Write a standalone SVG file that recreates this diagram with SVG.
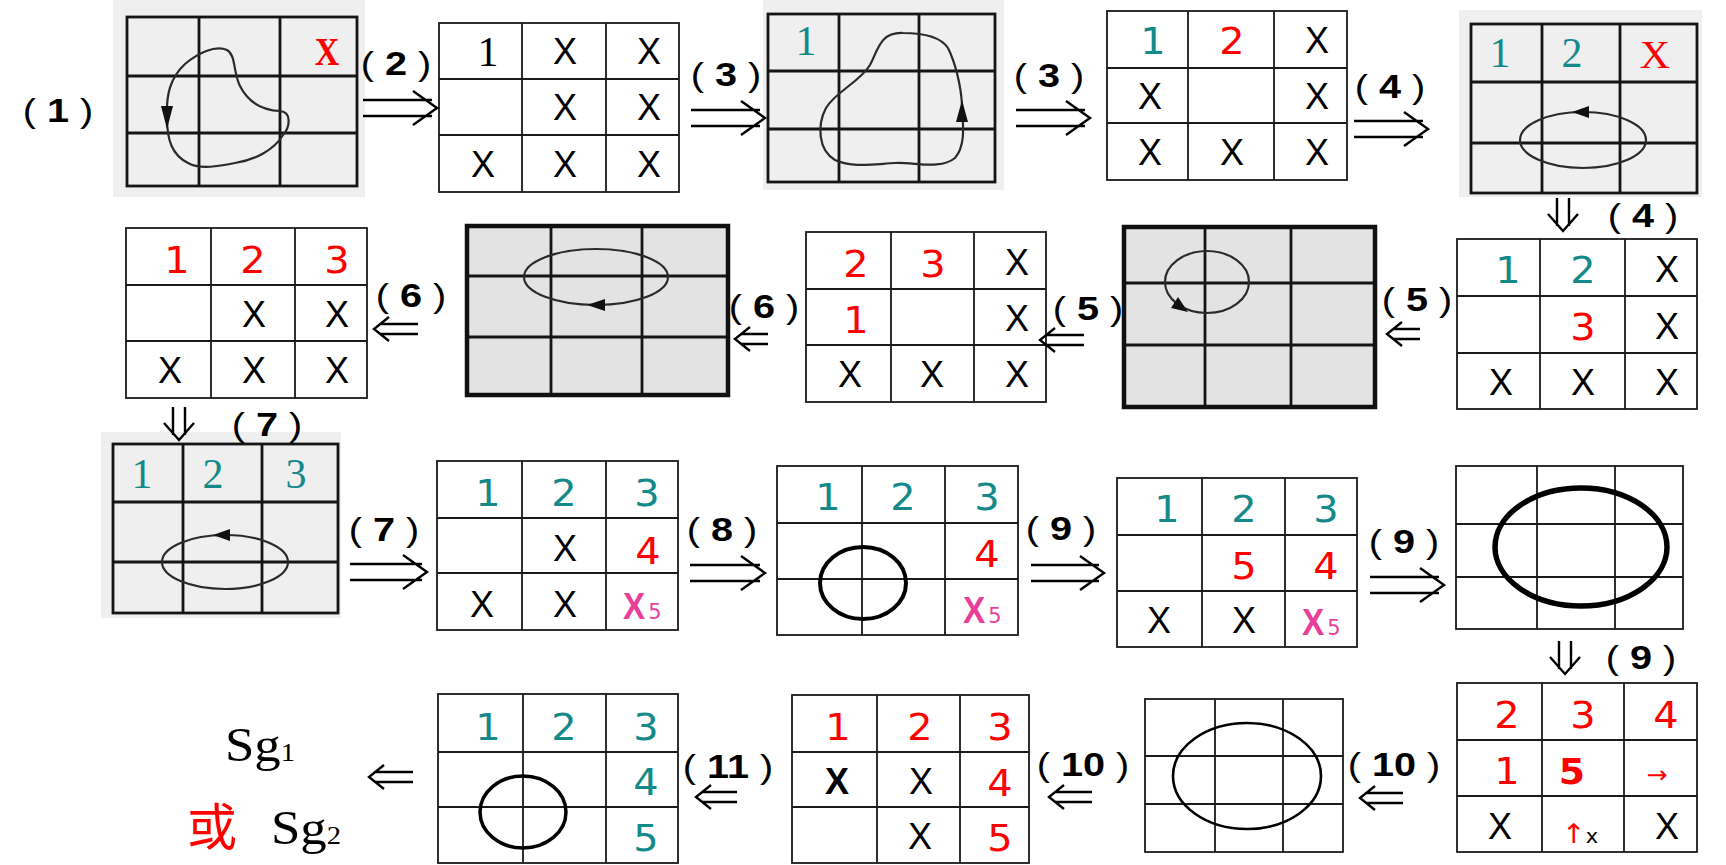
<svg xmlns="http://www.w3.org/2000/svg" width="1726" height="865" viewBox="0 0 1726 865">
<defs><style>
.bgp{fill:#efefef}
.bgd{fill:#e3e3e3}
.gw{fill:none;stroke:#1a1a1a;stroke-width:1.8}
.gp{fill:none;stroke:#151515;stroke-width:2.8}
.gt{fill:none;stroke:#111;stroke-width:4.5}
.cv{fill:none;stroke:#2a2a2a;stroke-width:2.2}
.ah{fill:#111}
.ring{fill:none;stroke:#000}
.ar{fill:none;stroke:#000;stroke-width:2.4}
text{transform-box:fill-box;transform-origin:center;text-anchor:middle}
.d{font-family:"DejaVu Sans",sans-serif;font-size:38px;transform:scaleX(1.05)}
.x{font-family:"Liberation Sans",sans-serif;font-size:36px}
.s{font-family:"Liberation Serif",serif;font-size:42px}
.xs{font-family:"Liberation Serif",serif;font-size:40px;transform:scaleX(0.85)}
.xs2{font-family:"Liberation Serif",serif;font-size:40px;transform:scaleX(1.05)}
.lb{font-family:"Liberation Sans",sans-serif;font-size:33px;transform:scaleX(1.2);fill:#000}
.sg{font-family:"Liberation Serif",serif;font-size:48px;transform:scaleX(1.1);fill:#000}
.cj{font-family:"Noto Sans CJK SC",sans-serif;font-size:50px}
.px{font-family:"Liberation Sans",sans-serif;font-size:37px;font-weight:bold;fill:#e8409a;transform:scaleX(0.9)}
.sub{font-family:"DejaVu Sans",sans-serif;font-size:21px;fill:#e8409a}
.sm{font-size:24px}
.b{font-weight:bold}
.t{fill:#14898a}
.r{fill:#ff0000}
.k{fill:#000}
</style></defs>
<rect width="1726" height="865" fill="#fff"/>

<g id="grid1">
<rect class="bgp" x="113" y="0" width="252" height="197"/>
<rect class="gp" x="127" y="17" width="230" height="169"/>
<path class="gp" d="M199,17V186M280,17V186M127,76H357M127,133H357"/>
<path class="cv" d="M227,50 C236,55 233,72 240,86 C247,100 260,110 280,111 C292,112 290,127 283,135 C274,150 255,160 235,163 C220,166 200,170 188,163 C172,155 167,140 167,118 C166,95 170,78 185,64 C198,53 215,45 227,50 Z"/>
<path class="ah" d="M161,106L173,106L167,129Z"/>
<text class="xs r b" x="327" y="65">X</text>
</g>

<g id="grid2">
<rect class="gw" x="439" y="23" width="240" height="169"/>
<path class="gw" d="M522,23V192M606,23V192M439,79H679M439,135H679"/>
<text class="s k" x="488" y="66">1</text>
<text class="x k" x="565" y="64">X</text>
<text class="x k" x="649" y="64">X</text>
<text class="x k" x="565" y="120">X</text>
<text class="x k" x="649" y="120">X</text>
<text class="x k" x="483" y="177">X</text>
<text class="x k" x="565" y="177">X</text>
<text class="x k" x="649" y="177">X</text>
</g>

<g id="grid3">
<rect class="bgp" x="763" y="0" width="241" height="190"/>
<rect class="gp" x="768" y="14" width="227" height="168"/>
<path class="gp" d="M839,14V182M919,14V182M768,71H995M768,129H995"/>
<path class="cv" d="M903,33 C880,32 878,50 870,65 C860,82 835,92 826,108 C817,125 818,150 835,160 C852,168 875,164 895,163 C915,162 940,170 955,158 C966,145 963,125 962,105 C961,85 955,62 948,48 C940,36 920,33 903,33 Z"/>
<path class="ah" d="M956,122L968,122L962,100Z"/>
<text class="s t" x="806" y="55">1</text>
</g>

<g id="grid4">
<rect class="gw" x="1107" y="11" width="240" height="169"/>
<path class="gw" d="M1188,11V180M1274,11V180M1107,68H1347M1107,123H1347"/>
<text class="d t" x="1153" y="54">1</text>
<text class="d r" x="1232" y="54">2</text>
<text class="x k" x="1317" y="53">X</text>
<text class="x k" x="1150" y="109">X</text>
<text class="x k" x="1317" y="109">X</text>
<text class="x k" x="1150" y="165">X</text>
<text class="x k" x="1232" y="165">X</text>
<text class="x k" x="1317" y="165">X</text>
</g>

<g id="grid5">
<rect class="bgp" x="1459" y="10" width="243" height="187"/>
<rect class="gp" x="1471" y="24" width="226" height="169"/>
<path class="gp" d="M1542,24V193M1620,24V193M1471,82H1697M1471,143H1697"/>
<ellipse class="cv" cx="1583" cy="140" rx="63" ry="28"/>
<path class="ah" d="M1572,112L1589,106L1589,118Z"/>
<text class="s t" x="1500" y="67">1</text>
<text class="s t" x="1572" y="67">2</text>
<text class="xs2 r" x="1655" y="68">X</text>
</g>

<g id="grid6">
<rect class="gw" x="126" y="228" width="241" height="170"/>
<path class="gw" d="M211,228V398M295,228V398M126,285H367M126,341H367"/>
<text class="d r" x="177" y="273">1</text>
<text class="d r" x="253" y="273">2</text>
<text class="d r" x="337" y="273">3</text>
<text class="x k" x="254" y="327">X</text>
<text class="x k" x="337" y="327">X</text>
<text class="x k" x="170" y="383">X</text>
<text class="x k" x="254" y="383">X</text>
<text class="x k" x="337" y="383">X</text>
</g>

<g id="grid7">
<rect class="bgd" x="467" y="226" width="261" height="169"/>
<path class="gp" d="M551,226V395M642,226V395M467,276H728M467,337H728"/>
<rect class="gt" x="467" y="226" width="261" height="169"/>
<ellipse class="cv" cx="596" cy="277" rx="72" ry="28"/>
<path class="ah" d="M587,305L605,299L605,311Z"/>
</g>

<g id="grid8">
<rect class="gw" x="806" y="232" width="240" height="170"/>
<path class="gw" d="M891,232V402M974,232V402M806,289H1046M806,345H1046"/>
<text class="d r" x="856" y="277">2</text>
<text class="d r" x="933" y="277">3</text>
<text class="x k" x="1017" y="275">X</text>
<text class="d r" x="856" y="333">1</text>
<text class="x k" x="1017" y="331">X</text>
<text class="x k" x="850" y="387">X</text>
<text class="x k" x="932" y="387">X</text>
<text class="x k" x="1017" y="387">X</text>
</g>

<g id="grid9">
<rect class="bgd" x="1124" y="227" width="251" height="180"/>
<path class="gp" d="M1205,227V407M1291,227V407M1124,283H1375M1124,345H1375"/>
<rect class="gt" x="1124" y="227" width="251" height="180"/>
<ellipse class="cv" cx="1207" cy="282" rx="42" ry="31"/>
<path class="ah" d="M1188,312L1171,308L1178,297Z"/>
</g>

<g id="grid10">
<rect class="gw" x="1457" y="239" width="240" height="170"/>
<path class="gw" d="M1540,239V409M1625,239V409M1457,296H1697M1457,353H1697"/>
<text class="d t" x="1508" y="283">1</text>
<text class="d t" x="1583" y="283">2</text>
<text class="x k" x="1667" y="282">X</text>
<text class="d r" x="1583" y="340">3</text>
<text class="x k" x="1667" y="339">X</text>
<text class="x k" x="1501" y="395">X</text>
<text class="x k" x="1583" y="395">X</text>
<text class="x k" x="1667" y="395">X</text>
</g>

<g id="grid11">
<rect class="bgp" x="101" y="432" width="240" height="186"/>
<rect class="gp" x="113" y="444" width="225" height="169"/>
<path class="gp" d="M183,444V613M262,444V613M113,502H338M113,562H338"/>
<ellipse class="cv" cx="225" cy="562" rx="63" ry="27"/>
<path class="ah" d="M213,535L230,529L230,541Z"/>
<text class="s t" x="142" y="488">1</text>
<text class="s t" x="213" y="488">2</text>
<text class="s t" x="296" y="488">3</text>
</g>

<g id="grid12">
<rect class="gw" x="437" y="461" width="241" height="169"/>
<path class="gw" d="M522,461V630M606,461V630M437,518H678M437,573H678"/>
<text class="d t" x="488" y="506">1</text>
<text class="d t" x="564" y="506">2</text>
<text class="d t" x="647" y="506">3</text>
<text class="x k" x="565" y="561">X</text>
<text class="d r" x="648" y="564">4</text>
<text class="x k" x="482" y="617">X</text>
<text class="x k" x="565" y="617">X</text>
<text class="px" x="634" y="619">X</text>
<text class="sub" x="655" y="619">5</text>
</g>

<g id="grid13">
<rect class="gw" x="777" y="466" width="241" height="169"/>
<path class="gw" d="M862,466V635M945,466V635M777,523H1018M777,579H1018"/>
<ellipse class="ring" cx="863" cy="583" rx="43" ry="36" stroke-width="4"/>
<text class="d t" x="828" y="510">1</text>
<text class="d t" x="903" y="510">2</text>
<text class="d t" x="987" y="510">3</text>
<text class="d r" x="987" y="567">4</text>
<text class="px" x="974" y="623">X</text>
<text class="sub" x="995" y="623">5</text>
</g>

<g id="grid14">
<rect class="gw" x="1117" y="478" width="240" height="169"/>
<path class="gw" d="M1202,478V647M1285,478V647M1117,535H1357M1117,591H1357"/>
<text class="d t" x="1167" y="522">1</text>
<text class="d t" x="1244" y="522">2</text>
<text class="d t" x="1326" y="522">3</text>
<text class="d r" x="1244" y="579">5</text>
<text class="d r" x="1326" y="579">4</text>
<text class="x k" x="1159" y="633">X</text>
<text class="x k" x="1244" y="633">X</text>
<text class="px" x="1313" y="635">X</text>
<text class="sub" x="1334" y="635">5</text>
</g>

<g id="grid15">
<rect class="gw" x="1456" y="466" width="227" height="163"/>
<path class="gw" d="M1537,466V629M1615,466V629M1456,524H1683M1456,577H1683"/>
<ellipse class="ring" cx="1581" cy="547" rx="86" ry="59" stroke-width="5.5"/>
</g>

<g id="grid16">
<rect class="gw" x="1457" y="683" width="240" height="169"/>
<path class="gw" d="M1542,683V852M1624,683V852M1457,740H1697M1457,796H1697"/>
<text class="d r" x="1507" y="728">2</text>
<text class="d r" x="1583" y="728">3</text>
<text class="d r" x="1666" y="728">4</text>
<text class="d r" x="1507" y="784">1</text>
<text class="d r b" x="1572" y="784" style="font-size:36px">5</text>
<text class="d r sm" x="1657" y="783">→</text>
<text class="x k" x="1500" y="839">X</text>
<text class="d sm" x="1580" y="843"><tspan class="r" font-size="27">↑</tspan><tspan class="k" font-size="20">x</tspan></text>
<text class="x k" x="1667" y="839">X</text>
</g>

<g id="grid17">
<rect class="gw" x="1145" y="699" width="198" height="153"/>
<path class="gw" d="M1215,699V852M1283,699V852M1145,756H1343M1145,804H1343"/>
<ellipse class="ring" cx="1247" cy="776" rx="74" ry="53" stroke-width="2.6"/>
</g>

<g id="grid18">
<rect class="gw" x="792" y="695" width="237" height="168"/>
<path class="gw" d="M877,695V863M960,695V863M792,752H1029M792,807H1029"/>
<text class="d r" x="838" y="740">1</text>
<text class="d r" x="920" y="740">2</text>
<text class="d r" x="1000" y="740">3</text>
<text class="x k b" x="837" y="794">X</text>
<text class="x k" x="921" y="794">X</text>
<text class="d r" x="1000" y="796">4</text>
<text class="x k" x="920" y="849">X</text>
<text class="d r" x="1000" y="851">5</text>
</g>

<g id="grid19">
<rect class="gw" x="438" y="694" width="240" height="169"/>
<path class="gw" d="M523,694V863M606,694V863M438,752H678M438,807H678"/>
<ellipse class="ring" cx="523" cy="812" rx="43" ry="36" stroke-width="3.5"/>
<text class="d t" x="488" y="740">1</text>
<text class="d t" x="564" y="740">2</text>
<text class="d t" x="646" y="740">3</text>
<text class="d t" x="646" y="795">4</text>
<text class="d t" x="646" y="851">5</text>
</g>

<g id="result">
<text class="sg" x="260" y="761">Sg<tspan font-size="26">1</tspan></text>
<text class="cj r" x="212" y="845">或</text>
<text class="sg" x="306" y="844">Sg<tspan font-size="26">2</tspan></text>
</g>

<g id="connectors">
<path class="ar" d="M363,100H432M363,116H432M413,91L437,108L413,125"/>
<path class="ar" d="M691,110H760M691,126H760M741,101L765,118L741,135"/>
<path class="ar" d="M1016,110H1085M1016,126H1085M1066,101L1090,118L1066,135"/>
<path class="ar" d="M1354,121H1423M1354,137H1423M1404,112L1428,129L1404,146"/>
<path class="ar" d="M1557,198V226M1569,198V226M1548,214L1563,231L1578,214"/>
<path class="ar" d="M1393,329H1420M1393,339H1420M1402,322L1387,334L1402,346"/>
<path class="ar" d="M1046,335H1084M1046,345H1084M1055,328L1040,340L1055,352"/>
<path class="ar" d="M741,334H768M741,344H768M750,327L735,339L750,351"/>
<path class="ar" d="M380,324H418M380,334H418M389,317L374,329L389,341"/>
<path class="ar" d="M173,407V435M185,407V435M164,423L179,440L194,423"/>
<path class="ar" d="M350,564H422M350,580H422M403,555L427,572L403,589"/>
<path class="ar" d="M690,565H760M690,581H760M741,556L765,573L741,590"/>
<path class="ar" d="M1031,565H1099M1031,581H1099M1080,556L1104,573L1080,590"/>
<path class="ar" d="M1370,577H1439M1370,593H1439M1420,568L1444,585L1420,602"/>
<path class="ar" d="M1559,641V669M1571,641V669M1550,657L1565,674L1580,657"/>
<path class="ar" d="M1366,793H1403M1366,803H1403M1375,786L1360,798L1375,810"/>
<path class="ar" d="M1055,792H1092M1055,802H1092M1064,785L1049,797L1064,809"/>
<path class="ar" d="M702,792H737M702,802H737M711,785L696,797L711,809"/>
<path class="ar" d="M375,772H413M375,782H413M384,765L369,777L384,789"/>
</g>

<g id="labels">
<text class="lb" x="58" y="122">(&#160;<tspan class="b">1</tspan>&#160;)</text>
<text class="lb" x="396" y="75">(&#160;<tspan class="b">2</tspan>&#160;)</text>
<text class="lb" x="726" y="86">(&#160;<tspan class="b">3</tspan>&#160;)</text>
<text class="lb" x="1049" y="87">(&#160;<tspan class="b">3</tspan>&#160;)</text>
<text class="lb" x="1390" y="98">(&#160;<tspan class="b">4</tspan>&#160;)</text>
<text class="lb" x="1643" y="227">(&#160;<tspan class="b">4</tspan>&#160;)</text>
<text class="lb" x="1417" y="311">(&#160;<tspan class="b">5</tspan>&#160;)</text>
<text class="lb" x="1088" y="320">(&#160;<tspan class="b">5</tspan>&#160;)</text>
<text class="lb" x="764" y="318">(&#160;<tspan class="b">6</tspan>&#160;)</text>
<text class="lb" x="411" y="307">(&#160;<tspan class="b">6</tspan>&#160;)</text>
<text class="lb" x="267" y="436">(&#160;<tspan class="b">7</tspan>&#160;)</text>
<text class="lb" x="384" y="541">(&#160;<tspan class="b">7</tspan>&#160;)</text>
<text class="lb" x="722" y="541">(&#160;<tspan class="b">8</tspan>&#160;)</text>
<text class="lb" x="1061" y="540">(&#160;<tspan class="b">9</tspan>&#160;)</text>
<text class="lb" x="1404" y="553">(&#160;<tspan class="b">9</tspan>&#160;)</text>
<text class="lb" x="1641" y="669">(&#160;<tspan class="b">9</tspan>&#160;)</text>
<text class="lb" x="1394" y="776">(&#160;<tspan class="b">10</tspan>&#160;)</text>
<text class="lb" x="1083" y="776">(&#160;<tspan class="b">10</tspan>&#160;)</text>
<text class="lb" x="728" y="778">(&#160;<tspan class="b">11</tspan>&#160;)</text>
</g>
</svg>
